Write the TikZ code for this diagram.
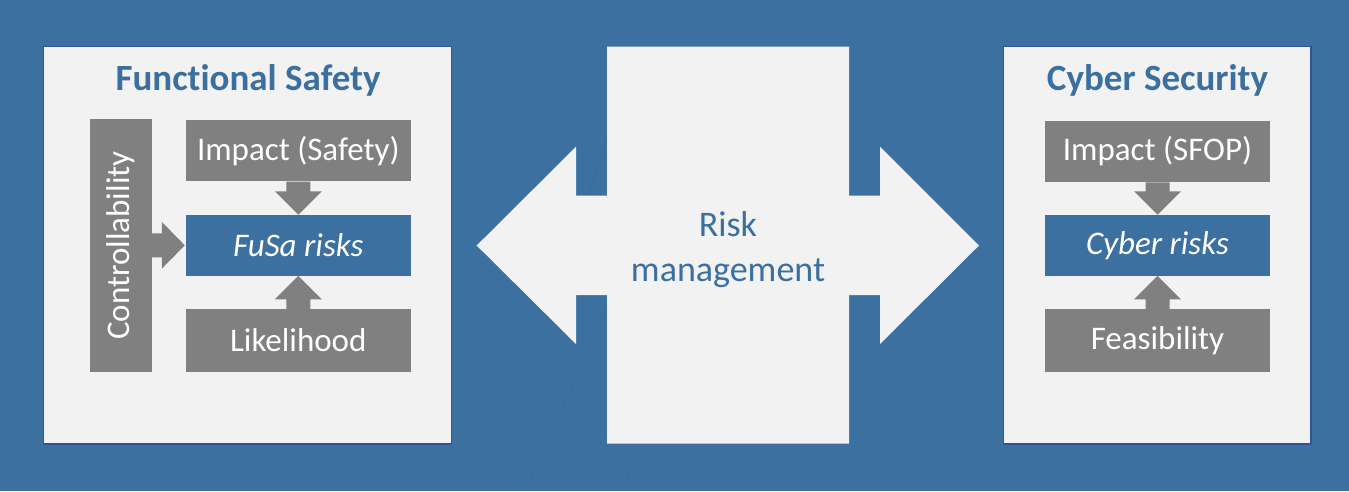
\documentclass[tikz,border=0pt]{standalone}
\usepackage{fontspec}
\setmainfont[Ligatures=NoCommon]{Carlito}
\usetikzlibrary{calc}
\definecolor{bgblue}{HTML}{3C70A0}
\definecolor{titleblue}{HTML}{3A6FA0}
\definecolor{panelgray}{HTML}{F2F2F2}
\definecolor{boxgray}{HTML}{808080}
\definecolor{panelborder}{HTML}{2F5597}
\definecolor{faintline}{HTML}{35628E}
\tikzset{
  panel/.style={draw=panelborder, line width=1.2pt, fill=panelgray, inner sep=0pt},
  graybox/.style={fill=boxgray, text=white, inner sep=0pt, font=\fontsize{33}{39}\selectfont},
  bluebox/.style={fill=bgblue, text=white, inner sep=0pt, font=\fontsize{33}{39}\selectfont\itshape},
  paneltitle/.style={text=titleblue, inner sep=0pt, font=\fontsize{37}{44}\selectfont\bfseries},
  blockarrow/.style={fill=boxgray},
}
\begin{document}
\begin{tikzpicture}[x=1pt, y=-1pt]
\fill[bgblue] (0,0) rectangle (1349,491);
\useasboundingbox (0,0) rectangle (1349,491);

% faint dotted lines
\draw[faintline, densely dotted, line width=0.5pt] (607,140) -- (588,195);
\draw[faintline, densely dotted, line width=0.5pt] (607,310) -- (525,491);
\draw[faintline, densely dotted, line width=0.5pt] (618,450) -- (635,491);

% left panel
\node[panel, minimum width=408.4pt, minimum height=397.3pt] (lp) at (247.5,245.3) {};
\node[paneltitle, anchor=base] (lt) at (248,90) {Funct\kern0pt ional Safety};
\node[fill=boxgray, minimum width=61.7pt, minimum height=252.4pt, inner sep=0pt] (ctrl) at (120.8,245.5) {};
\node[text=white, rotate=90, font=\fontsize{33}{39}\selectfont, inner sep=0pt] (ctrlt) at (ctrl.center) {Controllability};
\node[graybox, minimum width=224.7pt, minimum height=61.5pt] (imp) at (298.3,150.7) {Impact (Safety)};
\node[bluebox, minimum width=224.7pt, minimum height=60.7pt] (fusa) at (298.3,245.3) {FuSa risks};
\node[graybox, minimum width=224.7pt, minimum height=62.4pt] (lik) at (298.3,340.5) {Likelihood};

% block arrows left
\fill[blockarrow] ($(imp.south)+(-12,0)$) -- ($(imp.south)+(12,0)$) -- ($(fusa.north)+(12,-23.5)$) -- ($(fusa.north)+(23.5,-23.5)$) -- (fusa.north) -- ($(fusa.north)+(-23.5,-23.5)$) -- ($(fusa.north)+(-12,-23.5)$) -- cycle;
\fill[blockarrow] ($(lik.north)+(-12,0)$) -- ($(lik.north)+(12,0)$) -- ($(fusa.south)+(12,23.5)$) -- ($(fusa.south)+(23.5,23.5)$) -- (fusa.south) -- ($(fusa.south)+(-23.5,23.5)$) -- ($(fusa.south)+(-12,23.5)$) -- cycle;
\fill[blockarrow] ($(ctrl.east |- fusa.west)+(0,-12)$) -- ($(ctrl.east |- fusa.west)+(0,12)$) -- ($(fusa.west)+(-24,12)$) -- ($(fusa.west)+(-24,23.5)$) -- ($(fusa.west)+(-1,0)$) -- ($(fusa.west)+(-24,-23.5)$) -- ($(fusa.west)+(-24,-12)$) -- cycle;

% right panel
\node[panel, minimum width=307.7pt, minimum height=397.3pt] (rp) at (1157.2,245.3) {};
\node[paneltitle, anchor=base] (rt) at (1157.5,90) {Cyber Security};
\node[graybox, minimum width=225pt, minimum height=61.5pt] (sfop) at (1157.5,151.5) {Impact (SFOP)};
\node[bluebox, minimum width=225pt, minimum height=60.7pt] (cyb) at (1157.5,245.3) {Cyber risks};
\node[graybox, minimum width=225pt, minimum height=62.4pt] (feas) at (1157.5,340.5) {Feasibility};

\fill[blockarrow] ($(sfop.south)+(-12,0)$) -- ($(sfop.south)+(12,0)$) -- ($(cyb.north)+(12,-23.5)$) -- ($(cyb.north)+(23.5,-23.5)$) -- (cyb.north) -- ($(cyb.north)+(-23.5,-23.5)$) -- ($(cyb.north)+(-12,-23.5)$) -- cycle;
\fill[blockarrow] ($(feas.north)+(-12,0)$) -- ($(feas.north)+(12,0)$) -- ($(cyb.south)+(12,23.5)$) -- ($(cyb.south)+(23.5,23.5)$) -- (cyb.south) -- ($(cyb.south)+(-23.5,23.5)$) -- ($(cyb.south)+(-12,23.5)$) -- cycle;

% central double arrow
\fill[panelgray] (607,46.7) -- (849,46.7) -- (849,195.7) -- (880,195.7) -- (880,146.7) -- (979,245.5) -- (880,344) -- (880,295) -- (849,295) -- (849,443.7) -- (607,443.7) -- (607,295) -- (576,295) -- (576,344) -- (476.7,245.5) -- (576,146.7) -- (576,195.7) -- (607,195.7) -- cycle;
\node[text=titleblue, align=center, inner sep=0pt, font=\fontsize{36}{45}\selectfont] (rm) at (728,250) {Risk\\management};
\end{tikzpicture}
\end{document}
